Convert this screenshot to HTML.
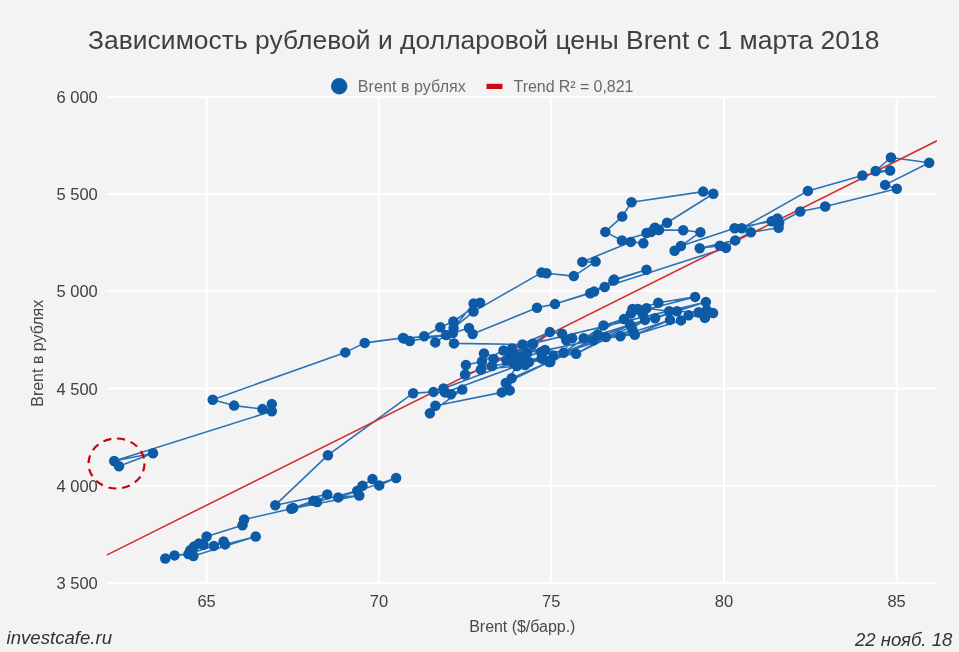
<!DOCTYPE html>
<html><head><meta charset="utf-8"><title>Brent</title>
<style>
html,body{margin:0;padding:0;background:#f3f3f3;}
body{width:959px;height:652px;overflow:hidden;font-family:"Liberation Sans",sans-serif;}
svg{display:block;}
text{font-family:"Liberation Sans",sans-serif;}
</style></head><body>
<svg width="959" height="652" viewBox="0 0 959 652">
<defs><filter id="gf" x="0" y="0" width="959" height="652" filterUnits="userSpaceOnUse" color-interpolation-filters="sRGB"><feOffset dx="0" dy="0"/></filter>
<clipPath id="cp"><rect x="106.5" y="87" width="830.5" height="506"/></clipPath></defs>
<rect width="959" height="652" fill="#f3f3f3"/>
<g stroke="#ffffff" stroke-width="2" fill="none"><path d="M206.6 97V583"/><path d="M379 97V583"/><path d="M551.3 97V583"/><path d="M724 97V583"/><path d="M896.6 97V583"/><path d="M106.5 97H937"/><path d="M106.5 194H937"/><path d="M106.5 290.8H937"/><path d="M106.5 388.5H937"/><path d="M106.5 485.8H937"/><path d="M106.5 583H937"/></g>
<g clip-path="url(#cp)">
<polyline points="165.3,558.5 174.5,555.4 188.4,554.1 213.9,545.9 223.6,541.5 225.1,544.4 255.7,536.5 193.4,556.0 190.3,550.3 194.0,546.6 203.5,544.7 199.0,543.4 206.6,536.5 242.5,525.2 244.1,519.5 291.3,508.8 359.3,495.5 338.2,497.4 396.1,478.0 379.2,485.4 372.5,479.1 362.5,485.7 357.3,490.8 293.2,508.0 313.5,500.7 317.1,502.1 327.3,494.4 275.3,505.2 327.9,455.2 413.2,393.2 433.5,391.9 451.0,394.3 462.3,389.6 429.9,413.2 435.4,405.7 501.8,392.4 509.7,390.4 511.7,378.3 549.0,362.0 505.8,383.0 517.0,366.0 543.0,359.0 529.0,362.0 553.5,355.9 492.0,366.0 493.5,359.0 506.5,360.5 510.5,352.5 513.0,362.5 521.5,356.5 525.0,365.0 541.7,358.2 576.1,353.8 544.9,350.4 593.4,340.2 620.4,336.3 605.9,337.1 634.8,334.7 632.5,330.0 563.6,352.7 630.1,324.6 576.1,353.8 645.0,319.9 620.4,336.3 670.0,319.9 634.8,334.7 681.0,320.4 688.6,315.3 704.9,317.9 713.1,313.1 706.8,310.3 698.6,312.2 677.0,311.3 645.0,319.9 598.0,334.7 583.7,338.2 623.9,319.1 603.5,325.4 563.6,352.7 572.2,338.2 566.3,340.2 562.1,333.7 549.9,332.1 512.0,348.5 527.0,353.0 522.5,344.5 541.0,352.0 503.5,350.5 545.0,350.0 519.0,360.0 550.3,362.1 593.4,340.2 603.5,325.4 623.9,319.1 630.9,313.6 632.5,308.9 637.9,308.9 658.3,302.7 695.1,296.9 630.9,313.6 642.7,313.9 646.5,308.2 669.2,311.3 705.9,302.1 655.1,318.3 677.0,311.3 705.9,302.1 503.5,350.5 515.0,355.0 549.9,332.1 519.0,360.0 443.5,388.5 445.0,392.4 517.0,366.0 481.0,369.5 465.1,374.5 465.9,365.0 482.0,361.5 484.0,353.4 506.5,360.5 533.1,343.8 512.0,348.5 549.9,332.1 532.5,344.0 481.0,369.5 484.0,353.4 482.0,361.5 503.5,350.5 522.5,344.5 454.0,343.4 446.1,335.1 404.0,338.5 424.2,336.3 440.3,327.2 453.4,321.5 480.1,302.8 473.6,303.5 453.6,327.9 473.5,311.6 541.5,272.6 546.5,273.2 573.8,276.1 595.6,261.6 582.3,261.9 630.8,241.9 643.4,243.2 646.5,233.0 651.2,231.9 655.1,227.8 659.0,229.9 621.9,240.5 605.3,231.9 622.2,216.6 631.5,202.2 703.2,191.6 713.3,193.7 667.1,222.8 654.7,227.9 658.6,229.9 683.2,230.3 700.4,232.2 674.6,250.7 680.9,246.0 734.6,228.2 771.7,221.3 777.4,218.4 741.8,228.2 807.9,190.9 862.4,175.5 890.1,170.5 875.6,171.0 890.9,157.5 929.2,162.7 885.1,184.9 896.8,188.8 825.2,206.5 800.2,211.5 779.2,222.8 778.6,227.8 750.9,232.2 735.2,240.4 699.7,248.2 719.9,245.8 726.0,247.9 604.7,287.0 594.1,291.6 614.1,279.6 646.5,269.7 613.5,280.5 590.2,293.2 555.0,304.1 594.1,291.6 555.0,304.1 537.0,307.8 472.6,334.0 469.0,328.0 452.9,333.0 446.1,335.1 435.3,342.4 446.1,335.1 409.8,341.0 403.0,337.9 364.7,342.9 345.3,352.4 212.7,399.7 234.1,405.6 262.4,409.1 271.8,404.1 271.8,411.3 114.2,461.0 153.0,453.2 119.0,466.2" fill="none" stroke="#2a72b5" stroke-width="1.6" stroke-linejoin="round"/>
<path d="M106.6 555.1L937 140.8" stroke="#d32f2f" stroke-width="1.6" fill="none"/>
</g>
<g fill="#0d5ba6"><circle cx="165.3" cy="558.5" r="5.25"/><circle cx="174.5" cy="555.4" r="5.25"/><circle cx="188.4" cy="554.1" r="5.25"/><circle cx="213.9" cy="545.9" r="5.25"/><circle cx="223.6" cy="541.5" r="5.25"/><circle cx="225.1" cy="544.4" r="5.25"/><circle cx="255.7" cy="536.5" r="5.25"/><circle cx="193.4" cy="556.0" r="5.25"/><circle cx="190.3" cy="550.3" r="5.25"/><circle cx="194.0" cy="546.6" r="5.25"/><circle cx="203.5" cy="544.7" r="5.25"/><circle cx="199.0" cy="543.4" r="5.25"/><circle cx="206.6" cy="536.5" r="5.25"/><circle cx="242.5" cy="525.2" r="5.25"/><circle cx="244.1" cy="519.5" r="5.25"/><circle cx="291.3" cy="508.8" r="5.25"/><circle cx="359.3" cy="495.5" r="5.25"/><circle cx="338.2" cy="497.4" r="5.25"/><circle cx="396.1" cy="478.0" r="5.25"/><circle cx="379.2" cy="485.4" r="5.25"/><circle cx="372.5" cy="479.1" r="5.25"/><circle cx="362.5" cy="485.7" r="5.25"/><circle cx="357.3" cy="490.8" r="5.25"/><circle cx="293.2" cy="508.0" r="5.25"/><circle cx="313.5" cy="500.7" r="5.25"/><circle cx="317.1" cy="502.1" r="5.25"/><circle cx="327.3" cy="494.4" r="5.25"/><circle cx="275.3" cy="505.2" r="5.25"/><circle cx="327.9" cy="455.2" r="5.25"/><circle cx="413.2" cy="393.2" r="5.25"/><circle cx="433.5" cy="391.9" r="5.25"/><circle cx="451.0" cy="394.3" r="5.25"/><circle cx="462.3" cy="389.6" r="5.25"/><circle cx="429.9" cy="413.2" r="5.25"/><circle cx="435.4" cy="405.7" r="5.25"/><circle cx="501.8" cy="392.4" r="5.25"/><circle cx="509.7" cy="390.4" r="5.25"/><circle cx="511.7" cy="378.3" r="5.25"/><circle cx="549.0" cy="362.0" r="5.25"/><circle cx="505.8" cy="383.0" r="5.25"/><circle cx="517.0" cy="366.0" r="5.25"/><circle cx="543.0" cy="359.0" r="5.25"/><circle cx="529.0" cy="362.0" r="5.25"/><circle cx="553.5" cy="355.9" r="5.25"/><circle cx="492.0" cy="366.0" r="5.25"/><circle cx="493.5" cy="359.0" r="5.25"/><circle cx="506.5" cy="360.5" r="5.25"/><circle cx="510.5" cy="352.5" r="5.25"/><circle cx="513.0" cy="362.5" r="5.25"/><circle cx="521.5" cy="356.5" r="5.25"/><circle cx="525.0" cy="365.0" r="5.25"/><circle cx="541.7" cy="358.2" r="5.25"/><circle cx="576.1" cy="353.8" r="5.25"/><circle cx="544.9" cy="350.4" r="5.25"/><circle cx="593.4" cy="340.2" r="5.25"/><circle cx="620.4" cy="336.3" r="5.25"/><circle cx="605.9" cy="337.1" r="5.25"/><circle cx="634.8" cy="334.7" r="5.25"/><circle cx="632.5" cy="330.0" r="5.25"/><circle cx="563.6" cy="352.7" r="5.25"/><circle cx="630.1" cy="324.6" r="5.25"/><circle cx="645.0" cy="319.9" r="5.25"/><circle cx="670.0" cy="319.9" r="5.25"/><circle cx="681.0" cy="320.4" r="5.25"/><circle cx="688.6" cy="315.3" r="5.25"/><circle cx="704.9" cy="317.9" r="5.25"/><circle cx="713.1" cy="313.1" r="5.25"/><circle cx="706.8" cy="310.3" r="5.25"/><circle cx="698.6" cy="312.2" r="5.25"/><circle cx="677.0" cy="311.3" r="5.25"/><circle cx="598.0" cy="334.7" r="5.25"/><circle cx="583.7" cy="338.2" r="5.25"/><circle cx="623.9" cy="319.1" r="5.25"/><circle cx="603.5" cy="325.4" r="5.25"/><circle cx="572.2" cy="338.2" r="5.25"/><circle cx="566.3" cy="340.2" r="5.25"/><circle cx="562.1" cy="333.7" r="5.25"/><circle cx="549.9" cy="332.1" r="5.25"/><circle cx="512.0" cy="348.5" r="5.25"/><circle cx="527.0" cy="353.0" r="5.25"/><circle cx="522.5" cy="344.5" r="5.25"/><circle cx="541.0" cy="352.0" r="5.25"/><circle cx="503.5" cy="350.5" r="5.25"/><circle cx="545.0" cy="350.0" r="5.25"/><circle cx="519.0" cy="360.0" r="5.25"/><circle cx="550.3" cy="362.1" r="5.25"/><circle cx="630.9" cy="313.6" r="5.25"/><circle cx="632.5" cy="308.9" r="5.25"/><circle cx="637.9" cy="308.9" r="5.25"/><circle cx="658.3" cy="302.7" r="5.25"/><circle cx="695.1" cy="296.9" r="5.25"/><circle cx="642.7" cy="313.9" r="5.25"/><circle cx="646.5" cy="308.2" r="5.25"/><circle cx="669.2" cy="311.3" r="5.25"/><circle cx="705.9" cy="302.1" r="5.25"/><circle cx="655.1" cy="318.3" r="5.25"/><circle cx="515.0" cy="355.0" r="5.25"/><circle cx="443.5" cy="388.5" r="5.25"/><circle cx="445.0" cy="392.4" r="5.25"/><circle cx="481.0" cy="369.5" r="5.25"/><circle cx="465.1" cy="374.5" r="5.25"/><circle cx="465.9" cy="365.0" r="5.25"/><circle cx="482.0" cy="361.5" r="5.25"/><circle cx="484.0" cy="353.4" r="5.25"/><circle cx="533.1" cy="343.8" r="5.25"/><circle cx="532.5" cy="344.0" r="5.25"/><circle cx="454.0" cy="343.4" r="5.25"/><circle cx="446.1" cy="335.1" r="5.25"/><circle cx="404.0" cy="338.5" r="5.25"/><circle cx="424.2" cy="336.3" r="5.25"/><circle cx="440.3" cy="327.2" r="5.25"/><circle cx="453.4" cy="321.5" r="5.25"/><circle cx="480.1" cy="302.8" r="5.25"/><circle cx="473.6" cy="303.5" r="5.25"/><circle cx="453.6" cy="327.9" r="5.25"/><circle cx="473.5" cy="311.6" r="5.25"/><circle cx="541.5" cy="272.6" r="5.25"/><circle cx="546.5" cy="273.2" r="5.25"/><circle cx="573.8" cy="276.1" r="5.25"/><circle cx="595.6" cy="261.6" r="5.25"/><circle cx="582.3" cy="261.9" r="5.25"/><circle cx="630.8" cy="241.9" r="5.25"/><circle cx="643.4" cy="243.2" r="5.25"/><circle cx="646.5" cy="233.0" r="5.25"/><circle cx="651.2" cy="231.9" r="5.25"/><circle cx="655.1" cy="227.8" r="5.25"/><circle cx="659.0" cy="229.9" r="5.25"/><circle cx="621.9" cy="240.5" r="5.25"/><circle cx="605.3" cy="231.9" r="5.25"/><circle cx="622.2" cy="216.6" r="5.25"/><circle cx="631.5" cy="202.2" r="5.25"/><circle cx="703.2" cy="191.6" r="5.25"/><circle cx="713.3" cy="193.7" r="5.25"/><circle cx="667.1" cy="222.8" r="5.25"/><circle cx="654.7" cy="227.9" r="5.25"/><circle cx="658.6" cy="229.9" r="5.25"/><circle cx="683.2" cy="230.3" r="5.25"/><circle cx="700.4" cy="232.2" r="5.25"/><circle cx="674.6" cy="250.7" r="5.25"/><circle cx="680.9" cy="246.0" r="5.25"/><circle cx="734.6" cy="228.2" r="5.25"/><circle cx="771.7" cy="221.3" r="5.25"/><circle cx="777.4" cy="218.4" r="5.25"/><circle cx="741.8" cy="228.2" r="5.25"/><circle cx="807.9" cy="190.9" r="5.25"/><circle cx="862.4" cy="175.5" r="5.25"/><circle cx="890.1" cy="170.5" r="5.25"/><circle cx="875.6" cy="171.0" r="5.25"/><circle cx="890.9" cy="157.5" r="5.25"/><circle cx="929.2" cy="162.7" r="5.25"/><circle cx="885.1" cy="184.9" r="5.25"/><circle cx="896.8" cy="188.8" r="5.25"/><circle cx="825.2" cy="206.5" r="5.25"/><circle cx="800.2" cy="211.5" r="5.25"/><circle cx="779.2" cy="222.8" r="5.25"/><circle cx="778.6" cy="227.8" r="5.25"/><circle cx="750.9" cy="232.2" r="5.25"/><circle cx="735.2" cy="240.4" r="5.25"/><circle cx="699.7" cy="248.2" r="5.25"/><circle cx="719.9" cy="245.8" r="5.25"/><circle cx="726.0" cy="247.9" r="5.25"/><circle cx="604.7" cy="287.0" r="5.25"/><circle cx="594.1" cy="291.6" r="5.25"/><circle cx="614.1" cy="279.6" r="5.25"/><circle cx="646.5" cy="269.7" r="5.25"/><circle cx="613.5" cy="280.5" r="5.25"/><circle cx="590.2" cy="293.2" r="5.25"/><circle cx="555.0" cy="304.1" r="5.25"/><circle cx="537.0" cy="307.8" r="5.25"/><circle cx="472.6" cy="334.0" r="5.25"/><circle cx="469.0" cy="328.0" r="5.25"/><circle cx="452.9" cy="333.0" r="5.25"/><circle cx="435.3" cy="342.4" r="5.25"/><circle cx="409.8" cy="341.0" r="5.25"/><circle cx="403.0" cy="337.9" r="5.25"/><circle cx="364.7" cy="342.9" r="5.25"/><circle cx="345.3" cy="352.4" r="5.25"/><circle cx="212.7" cy="399.7" r="5.25"/><circle cx="234.1" cy="405.6" r="5.25"/><circle cx="262.4" cy="409.1" r="5.25"/><circle cx="271.8" cy="404.1" r="5.25"/><circle cx="271.8" cy="411.3" r="5.25"/><circle cx="114.2" cy="461.0" r="5.25"/><circle cx="153.0" cy="453.2" r="5.25"/><circle cx="119.0" cy="466.2" r="5.25"/></g>
<ellipse cx="116.5" cy="463.5" rx="28" ry="25" fill="none" stroke="#c8000f" stroke-width="2.2" stroke-dasharray="8 5.9"/>
<circle cx="339.2" cy="86.3" r="8.2" fill="#0d5ba6"/>
<path d="M486.5 86.4H502.5" stroke="#cc0a14" stroke-width="5.2"/>
<g filter="url(#gf)">
<text x="88" y="48.5" font-size="26.4" fill="#404040" textLength="791.5">Зависимость рублевой и долларовой цены Brent с 1 марта 2018</text>
<g font-size="16.5" fill="#404040"><text x="97.8" y="103" text-anchor="end">6 000</text><text x="97.8" y="200" text-anchor="end">5 500</text><text x="97.8" y="296.8" text-anchor="end">5 000</text><text x="97.8" y="394.5" text-anchor="end">4 500</text><text x="97.8" y="491.8" text-anchor="end">4 000</text><text x="97.8" y="589" text-anchor="end">3 500</text><text x="206.6" y="607" text-anchor="middle">65</text><text x="379" y="607" text-anchor="middle">70</text><text x="551.3" y="607" text-anchor="middle">75</text><text x="724" y="607" text-anchor="middle">80</text><text x="896.6" y="607" text-anchor="middle">85</text></g>
<text transform="translate(42.5,353.3) rotate(-90)" text-anchor="middle" font-size="16" fill="#484848">Brent в рублях</text>
<text x="469.2" y="631.7" font-size="16" fill="#484848" textLength="106.2">Brent ($/барр.)</text>
<text x="357.8" y="91.7" font-size="16" fill="#6a6a6a" textLength="108">Brent в рублях</text>
<text x="513.6" y="91.7" font-size="16" fill="#6a6a6a" textLength="119.8">Trend R² = 0,821</text>
<text x="6.6" y="644.2" font-size="18.6" font-style="italic" fill="#333333">investcafe.ru</text>
<text x="952.4" y="646.2" text-anchor="end" font-size="18.6" font-style="italic" fill="#333333">22 нояб. 18</text>
</g>
</svg>
</body></html>
